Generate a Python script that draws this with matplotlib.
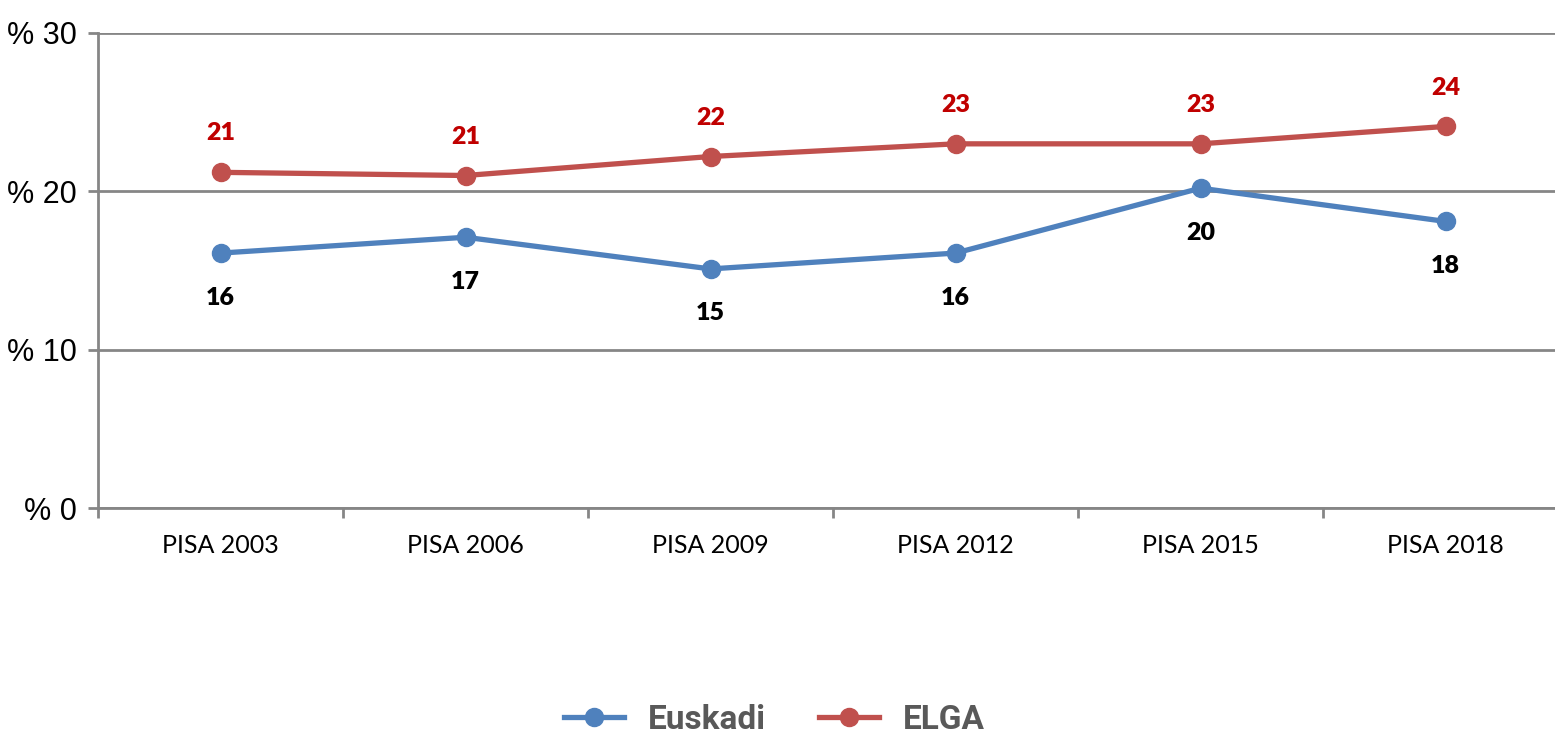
import matplotlib.pyplot as plt
from matplotlib.lines import Line2D

# datos
categorias = ['PISA 2003', 'PISA 2006', 'PISA 2009', 'PISA 2012', 'PISA 2015', 'PISA 2018']
euskadi = [16.1, 17.1, 15.1, 16.1, 20.2, 18.1]
elga = [21.2, 21.0, 22.2, 23.0, 23.0, 24.1]
yticks = [0, 10, 20, 30]
ytick_labels = ['% 0', '% 10', '% 20', '% 30']

azul = '#4F81BD'
rojo = '#C0504D'
gris = '#868686'

fig = plt.figure(figsize=(15.55, 7.35), dpi=100)
ax = fig.add_axes([98 / 1555, 1 - 508 / 735, 6 * 245 / 1555, 475 / 735])

x = list(range(len(categorias)))
ax.plot(x, euskadi, color=azul, lw=3.8, marker='o', ms=13, zorder=3)
ax.plot(x, elga, color=rojo, lw=3.8, marker='o', ms=13, zorder=3)

# etiquetas de datos
for i in x:
    ax.annotate(f'{euskadi[i]:.0f}', (i, euskadi[i]), xytext=(0, -32), textcoords='offset points',
                ha='center', va='center', fontsize=18, fontweight='heavy', color='black',
                family='Lato')
    ax.annotate(f'{elga[i]:.0f}', (i, elga[i]), xytext=(0, 28), textcoords='offset points',
                ha='center', va='center', fontsize=18, fontweight='heavy', color='#C00000',
                family='Lato')

ax.set_xlim(-0.5, 5.5)
ax.set_ylim(0, 30)
ax.set_yticks(yticks)
ax.set_yticklabels(ytick_labels, fontsize=22, family='Liberation Sans')
ax.yaxis.grid(True, color=gris, lw=2)
ax.set_axisbelow(True)

ax.set_xticks(x)
ax.set_xticklabels(categorias, fontsize=18, family='Lato')
ax.set_xticks([i - 0.5 for i in range(7)], minor=True)
ax.tick_params(axis='x', which='major', length=0, pad=19)
ax.tick_params(axis='x', which='minor', length=7, width=2, color=gris)
ax.tick_params(axis='y', length=7, width=2, color=gris, pad=8)

for s in ['top', 'right']:
    ax.spines[s].set_visible(False)
for s in ['left', 'bottom']:
    ax.spines[s].set_color(gris)
    ax.spines[s].set_linewidth(2)

handles = [Line2D([], [], color=azul, lw=3.8, marker='o', ms=13),
           Line2D([], [], color=rojo, lw=3.8, marker='o', ms=13)]
leg = fig.legend(handles, ['Euskadi', 'ELGA'], loc='center', bbox_to_anchor=(0.498, 1 - 720 / 735),
                 ncol=2, frameon=False, handlelength=1.8, handletextpad=0.7, columnspacing=1.6,
                 prop={'family': 'Roboto', 'weight': 'bold', 'size': 24})
for t in leg.get_texts():
    t.set_color('#595959')

fig.savefig('out.png', dpi=100)
